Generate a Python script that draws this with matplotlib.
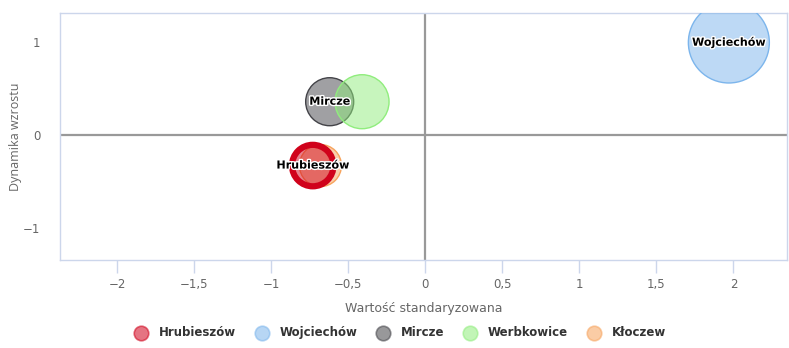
import numpy as np
import matplotlib.pyplot as plt
import matplotlib.patheffects as pe

# gminy: wartość standaryzowana (x), dynamika wzrostu (y), wielkość bąbla (z)
gminy = ['Hrubieszów', 'Wojciechów', 'Mircze', 'Werbkowice', 'Kłoczew']
wartosc = [-0.73, 1.97, -0.62, -0.41, -0.68]
dynamika = [-0.33, 1.00, 0.36, 0.36, -0.33]
wielkosc = [430, 1640, 576, 729, 441]
kolory = ['#d0021b', '#7cb5ec', '#434348', '#90ed7d', '#f7a35c']

xticks = [-2, -1.5, -1, -0.5, 0, 0.5, 1, 1.5, 2]
yticks = [-1, 0, 1]

fig = plt.figure(figsize=(7.89, 3.48), dpi=100)
ax = fig.add_axes([0.076, 0.253, 0.922, 0.710])

ax.set_xlim(-2.37, 2.35)
ax.set_ylim(-1.35, 1.32)

# osie przez zero
ax.axhline(0, color='#999999', lw=1.6, zorder=1)
ax.axvline(0, color='#999999', lw=1.6, zorder=1)

# kolejność rysowania: Hrubieszów na wierzchu
kolejnosc = {0: 9, 1: 3, 2: 4, 3: 5, 4: 6}

# promień w px -> pole markera w pt^2
px = 72 / fig.dpi
for i, nazwa in enumerate(gminy):
    s = (2 * np.sqrt(wielkosc[i]) * px) ** 2
    lw = 4.5 if i == 0 else 1.0
    z = kolejnosc[i]
    ax.scatter(wartosc[i], dynamika[i], s=s, color=kolory[i], alpha=0.5,
               edgecolors='none', zorder=z)
    ax.scatter(wartosc[i], dynamika[i], s=s, facecolors='none',
               edgecolors=kolory[i], linewidths=lw, zorder=z)

# podpisy tylko dla wybranych bąbli
for i in [1, 2, 0]:
    ax.text(wartosc[i], dynamika[i], gminy[i], ha='center', va='center',
            fontsize=8, fontweight='bold', color='black', zorder=20,
            path_effects=[pe.withStroke(linewidth=2, foreground='white')])

ax.set_xticks(xticks)
ax.set_xticklabels([str(t).replace('.', ',').replace('-', '−') for t in xticks])
ax.set_yticks(yticks)
ax.set_yticklabels(['−1', '0', '1'])

ax.tick_params(axis='x', length=9, width=1, color='#ccd6eb', labelsize=8.5,
               labelcolor='#666666', pad=4)
ax.tick_params(axis='y', length=0, labelsize=8.5, labelcolor='#666666', pad=14)
for t in ax.get_xticklabels():
    t.set_family(['Liberation Sans Narrow', 'DejaVu Sans'])

for sp in ax.spines.values():
    sp.set_color('#ccd6eb')
    sp.set_linewidth(1)

ax.set_xlabel('Wartość standaryzowana', fontsize=9, color='#666666',
              family=['Liberation Sans Narrow', 'DejaVu Sans'], labelpad=8)
ax.set_ylabel('Dynamika wzrostu', fontsize=9, color='#666666',
              family='Open Sans', labelpad=1)

# legenda
uchwyty = [ax.scatter([], [], s=110, color=c, alpha=0.55, edgecolors=c,
                      linewidths=1.2) for c in kolory]
fig.legend(uchwyty, gminy, loc='lower center', ncol=5, frameon=False,
           bbox_to_anchor=(0.504, -0.005), handletextpad=0.5, columnspacing=1.2,
           prop={'size': 8.5, 'weight': 'bold'}, labelcolor='#333333')

fig.savefig('out.png', dpi=100)
